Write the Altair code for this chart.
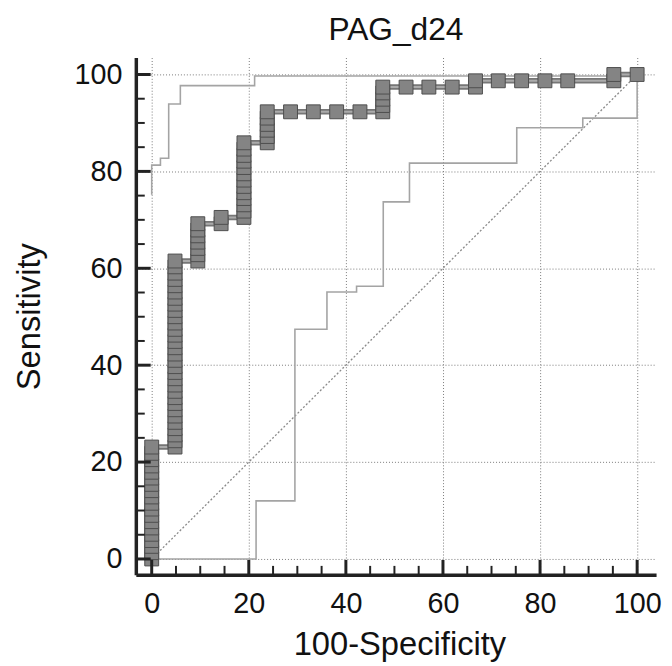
import altair as alt
import pandas as pd

FONT = "Liberation Sans"

title_text = "PAG_d24"
x_title = "100-Specificity"
y_title = "Sensitivity"
tick_values = [0, 20, 40, 60, 80, 100]
minor_values = [5, 10, 15, 25, 30, 35, 45, 50, 55, 65, 70, 75, 85, 90, 95]

# ROC points: one list of sensitivities for each false-positive-rate column
col_fpr = [0.0, 4.8, 9.5, 14.3, 19.0, 23.8, 28.6, 33.3, 38.1, 42.9, 47.6,
           52.4, 57.1, 61.9, 66.7, 71.4, 76.2, 81.0, 85.7, 95.2, 100.0]
col_sens = [
    [0.0, 1.3, 2.6, 3.8, 5.1, 6.4, 7.7, 9.0, 10.3, 11.5, 12.8, 14.1, 15.4, 16.7,
     17.9, 19.2, 20.5, 21.8, 23.1],
    [23.1, 24.4, 25.6, 26.9, 28.2, 29.5, 30.8, 32.1, 33.3, 34.6, 35.9, 37.2, 38.5,
     39.7, 41.0, 42.3, 43.6, 44.9, 46.2, 47.4, 48.7, 50.0, 51.3, 52.6, 53.8, 55.1,
     56.4, 57.7, 59.0, 60.3, 61.5],
    [61.5, 62.8, 64.1, 65.4, 66.7, 67.9, 69.2],
    [69.2, 70.5],
    [70.5, 71.8, 73.1, 74.4, 75.6, 76.9, 78.2, 79.5, 80.8, 82.1, 83.3, 84.6, 85.9],
    [85.9, 87.2, 88.5, 89.7, 91.0, 92.3],
    [92.3], [92.3], [92.3], [92.3],
    [92.3, 93.6, 94.9, 96.2, 97.4],
    [97.4], [97.4], [97.4],
    [97.4, 98.7],
    [98.7], [98.7], [98.7], [98.7],
    [98.7, 100.0],
    [100.0],
]

# confidence bounds (step lines)
upper_fpr = [0.0, 0.0, 1.8, 1.8, 3.5, 3.5, 5.9, 5.9, 21.2, 21.2, 100.0]
upper_sens = [75.2, 81.3, 81.3, 82.7, 82.7, 93.9, 93.9, 97.7, 97.7, 99.7, 99.7]
lower_fpr = [0.0, 21.5, 21.5, 29.5, 29.5, 36.1, 36.1, 42.2, 42.2, 47.7, 47.7,
             53.1, 53.1, 75.2, 75.2, 88.8, 88.8, 100.0, 100.0]
lower_sens = [0.0, 0.0, 12.0, 12.0, 47.4, 47.4, 55.1, 55.1, 56.3, 56.3, 73.7,
              73.7, 81.7, 81.7, 89.0, 89.0, 91.0, 91.0, 100.0]

diag_fpr = [0, 100]
diag_sens = [0, 100]

# ---- tables ----
roc_rows = []
for f, ss in zip(col_fpr, col_sens):
    for s in ss:
        roc_rows.append({"fpr": f, "sens": s, "i": len(roc_rows)})
roc_df = pd.DataFrame(roc_rows)

band_rows = []
for i, (f, s) in enumerate(zip(upper_fpr, upper_sens)):
    band_rows.append({"fpr": f, "sens": s, "i": i, "band": "upper"})
for i, (f, s) in enumerate(zip(lower_fpr, lower_sens)):
    band_rows.append({"fpr": f, "sens": s, "i": i, "band": "lower"})
band_df = pd.DataFrame(band_rows)

diag_df = pd.DataFrame({"fpr": diag_fpr, "sens": diag_sens})
major_df = pd.DataFrame({"fpr": tick_values, "sens": tick_values})
minor_df = pd.DataFrame({"fpr": minor_values, "sens": minor_values})
title_df = pd.DataFrame({"label": [title_text]})

W, H = 525, 522
xscale = alt.Scale(domain=[-3.27, 103.9], nice=False, zero=False)
yscale = alt.Scale(domain=[-3.27, 103.5], nice=False, zero=False)

common_axis = dict(
    values=tick_values, grid=True, gridDash=[1, 2], gridColor="#7a7a7a",
    gridWidth=1, ticks=False, tickSize=0, labelFontSize=29, labelFont=FONT,
    labelColor="#111111", labelFlush=False, labelOverlap=False,
    domainColor="#222222", domainWidth=3.5, titleFontSize=33, titleFont=FONT,
    titleFontWeight="normal", titleColor="#111111", titleBaseline="alphabetic",
)
xaxis = alt.Axis(title=x_title, labelPadding=15, titleY=80, titleX=266,
                 titleAlign="center", **common_axis)
yaxis = alt.Axis(title=y_title, labelPadding=14, titleAngle=270, titleX=-97,
                 titleY=H / 2, titleAlign="center", **common_axis)

X = alt.X("fpr:Q", scale=xscale, axis=xaxis)
Y = alt.Y("sens:Q", scale=yscale, axis=yaxis)

diag = alt.Chart(diag_df).mark_line(
    color="#8a8a8a", strokeDash=[2, 2], strokeWidth=1.3
).encode(x=X, y=Y)

bands = alt.Chart(band_df).mark_line(
    color="#a4a4a4", strokeWidth=1.6, interpolate="linear"
).encode(x=X, y=Y, detail="band:N", order="i:Q")

roc_outer = alt.Chart(roc_df).mark_line(color="#767676", strokeWidth=5.5).encode(
    x=X, y=Y, order="i:Q")
roc_inner = alt.Chart(roc_df).mark_line(color="#ababab", strokeWidth=2).encode(
    x=X, y=Y, order="i:Q")

squares = alt.Chart(roc_df).mark_square(
    size=196, fill="#848484", stroke="#4e4e4e", strokeWidth=1, opacity=1
).encode(x=X, y=Y)

y_major = alt.Chart(major_df).mark_rule(color="#222222", strokeWidth=3).encode(
    y=Y, x=alt.value(0), x2=alt.value(15))
y_minor = alt.Chart(minor_df).mark_rule(color="#222222", strokeWidth=2).encode(
    y=Y, x=alt.value(0), x2=alt.value(9))
x_major = alt.Chart(major_df).mark_rule(color="#222222", strokeWidth=3).encode(
    x=X, y=alt.value(H), y2=alt.value(H - 15))
x_minor = alt.Chart(minor_df).mark_rule(color="#222222", strokeWidth=2).encode(
    x=X, y=alt.value(H), y2=alt.value(H - 9))

title_mark = alt.Chart(title_df).mark_text(
    font=FONT, fontSize=32, color="#111111", align="center",
    baseline="alphabetic"
).encode(x=alt.value(W / 2), y=alt.value(-18), text="label:N")

chart = alt.layer(
    diag, bands, roc_outer, roc_inner, squares, y_major, y_minor, x_major,
    x_minor, title_mark
).properties(
    width=W, height=H,
    autosize=alt.AutoSizeParams(type="none"),
    padding={"left": 129, "top": 47, "right": 8, "bottom": 86},
).configure_view(stroke=None)

chart.save("out.html", embed_options={"renderer": "svg", "actions": False})
